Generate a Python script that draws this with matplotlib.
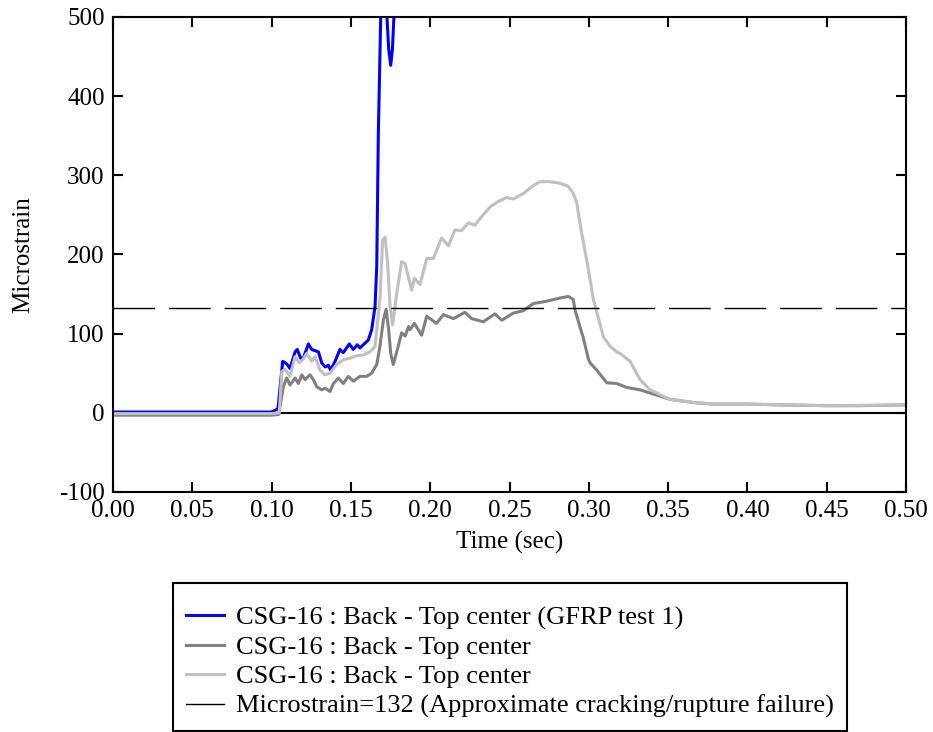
import matplotlib
matplotlib.use("Agg")
import matplotlib.pyplot as plt
from matplotlib.lines import Line2D

plt.rcParams['font.family'] = ['Liberation Serif', 'DejaVu Serif']
plt.rcParams['axes.unicode_minus'] = False

# === Data ===
t_blue = [0.000, 0.020, 0.040, 0.060, 0.080, 0.100, 0.1040, 0.1070, 0.1095, 0.1116, 0.1148,
          0.1162, 0.1183, 0.1200, 0.1232, 0.1253, 0.1295, 0.1316, 0.1337, 0.1358, 0.1372,
          0.1400, 0.1431, 0.1452, 0.1490, 0.1515, 0.1540, 0.1557, 0.1589, 0.1610, 0.1631,
          0.1652, 0.1663, 0.1673, 0.1688, 0.1705, 0.1722, 0.1738, 0.1751, 0.1762, 0.1778,
          0.1800]
v_blue = [1, 1, 1, 1, 1, 1, 5, 65, 62, 56, 77,
          80, 69, 69, 87, 80, 77, 63, 58, 60, 54,
          65, 80, 76, 87, 80, 86, 82, 88, 92, 105,
          134, 185, 353, 500, 600, 520, 460, 439, 460, 530,
          650]

t_dark = [0.000, 0.020, 0.040, 0.060, 0.080, 0.100, 0.1045, 0.1074, 0.1095, 0.1116, 0.1148,
          0.1169, 0.1190, 0.1211, 0.1242, 0.1263, 0.1284, 0.1316, 0.1337, 0.1368, 0.1390,
          0.1421, 0.1452, 0.1484, 0.1515, 0.1557, 0.1599, 0.1631, 0.1663, 0.1683, 0.1705,
          0.1722, 0.1738, 0.1751, 0.1767, 0.1793, 0.1820, 0.1842, 0.1863, 0.1873, 0.1900,
          0.1946, 0.1978, 0.2040, 0.2083, 0.2147, 0.2219, 0.2261, 0.2335, 0.2408, 0.2451,
          0.2524, 0.2587, 0.2650, 0.2735, 0.2818, 0.2871, 0.2902, 0.2913, 0.2945, 0.2965,
          0.2997, 0.3008, 0.3050, 0.3113, 0.3176, 0.3239, 0.3323, 0.3449, 0.3512, 0.3660,
          0.3780, 0.4000, 0.4200, 0.4500, 0.4700, 0.5000]
v_dark = [-3, -3, -3, -3, -3, -3, -2, 33, 44, 35, 44,
          37, 48, 42, 48, 42, 33, 29, 31, 27, 37,
          44, 37, 46, 40, 46, 46, 50, 61, 84, 117,
          131, 105, 75, 61, 80, 101, 97, 109, 105, 113,
          98, 122, 113, 124, 119, 127, 119, 115, 125, 117,
          126, 129, 138, 141, 145, 147, 143, 130, 108, 95,
          68, 63, 54, 38, 37, 32, 29, 21, 17, 13,
          11, 11, 10, 9, 9, 10]

t_light = [0.000, 0.020, 0.040, 0.060, 0.080, 0.100, 0.1048, 0.1064, 0.1085, 0.1116, 0.1148,
           0.1175, 0.1196, 0.1221, 0.1253, 0.1274, 0.1305, 0.1337, 0.1368, 0.1410, 0.1452,
           0.1494, 0.1536, 0.1578, 0.1620, 0.1652, 0.1683, 0.1700, 0.1715, 0.1730, 0.1747,
           0.1763, 0.1789, 0.1820, 0.1842, 0.1883, 0.1900, 0.1936, 0.1978, 0.2020, 0.2072,
           0.2115, 0.2156, 0.2198, 0.2240, 0.2282, 0.2325, 0.2377, 0.2430, 0.2482, 0.2524,
           0.2587, 0.2650, 0.2692, 0.2755, 0.2818, 0.2871, 0.2902, 0.2924, 0.2955, 0.2987,
           0.3029, 0.3092, 0.3134, 0.3176, 0.3197, 0.3260, 0.3323, 0.3386, 0.3449, 0.3510,
           0.3660, 0.3800, 0.4000, 0.4500, 0.5000]
v_light = [-1, -1, -1, -1, -1, -1, 0, 52, 55, 46, 71,
           63, 67, 75, 65, 71, 54, 48, 50, 61, 67,
           69, 72, 73, 77, 84, 143, 218, 222, 193, 134,
           111, 151, 191, 188, 155, 170, 162, 195, 195, 221,
           211, 231, 230, 240, 237, 248, 260, 267, 272, 270,
           277, 287, 292, 292, 290, 286, 277, 265, 227, 193,
           143, 96, 84, 77, 75, 65, 42, 29, 23, 17,
           13, 11, 11, 9, 10]

threshold = 132
labels = ["CSG-16 : Back - Top center (GFRP test 1)",
          "CSG-16 : Back - Top center",
          "CSG-16 : Back - Top center",
          "Microstrain=132 (Approximate cracking/rupture failure)"]

# === Plot ===
fig = plt.figure(figsize=(9.33, 7.32), dpi=100)
ax = fig.add_axes([0.1211, 0.3279, 0.8500, 0.6489])

ax.axhline(0, color="black", linewidth=1.5, zorder=1)
ax.plot(t_blue, v_blue, color="#0000ff", linewidth=2.2, zorder=2)
ax.plot(t_dark, v_dark, color="#808080", linewidth=2.2, zorder=2)
ax.plot(t_light, v_light, color="#c0c0c0", linewidth=2.2, zorder=2)
ax.axhline(threshold, color="black", linewidth=1.0, dashes=(30, 10), zorder=3)

ax.set_xlim(0, 0.5)
ax.set_ylim(-100, 500)
ax.set_xticks([0.00, 0.05, 0.10, 0.15, 0.20, 0.25, 0.30, 0.35, 0.40, 0.45, 0.50])
ax.set_xticklabels([f"{x:.2f}" for x in ax.get_xticks()])
ax.set_yticks([-100, 0, 100, 200, 300, 400, 500])
ax.tick_params(direction="in", length=7, width=1.5, top=True, right=True,
               labelsize=18, pad=6)
for s in ax.spines.values():
    s.set_linewidth(1.5)

ax.set_xlabel("Time (sec)", fontsize=18, labelpad=6)
ax.set_ylabel("Microstrain", fontsize=18, labelpad=18)

# Legend with a solid proxy for the threshold line (box runs off the bottom edge)
handles = [Line2D([], [], color="#0000ff", linewidth=2.2),
           Line2D([], [], color="#808080", linewidth=2.2),
           Line2D([], [], color="#c0c0c0", linewidth=2.2),
           Line2D([], [], color="black", linewidth=1.0)]
leg = fig.legend(handles, labels, loc="upper center", bbox_to_anchor=(0.5465, 0.2035),
                 fontsize=19, title=" ", title_fontsize=3, frameon=True,
                 fancybox=False, framealpha=1, edgecolor="black",
                 labelspacing=0.22, handlelength=1.45, handletextpad=0.45,
                 borderpad=0.5, borderaxespad=0)
leg.get_frame().set_linewidth(1.5)

fig.savefig("out.png", dpi=100)
